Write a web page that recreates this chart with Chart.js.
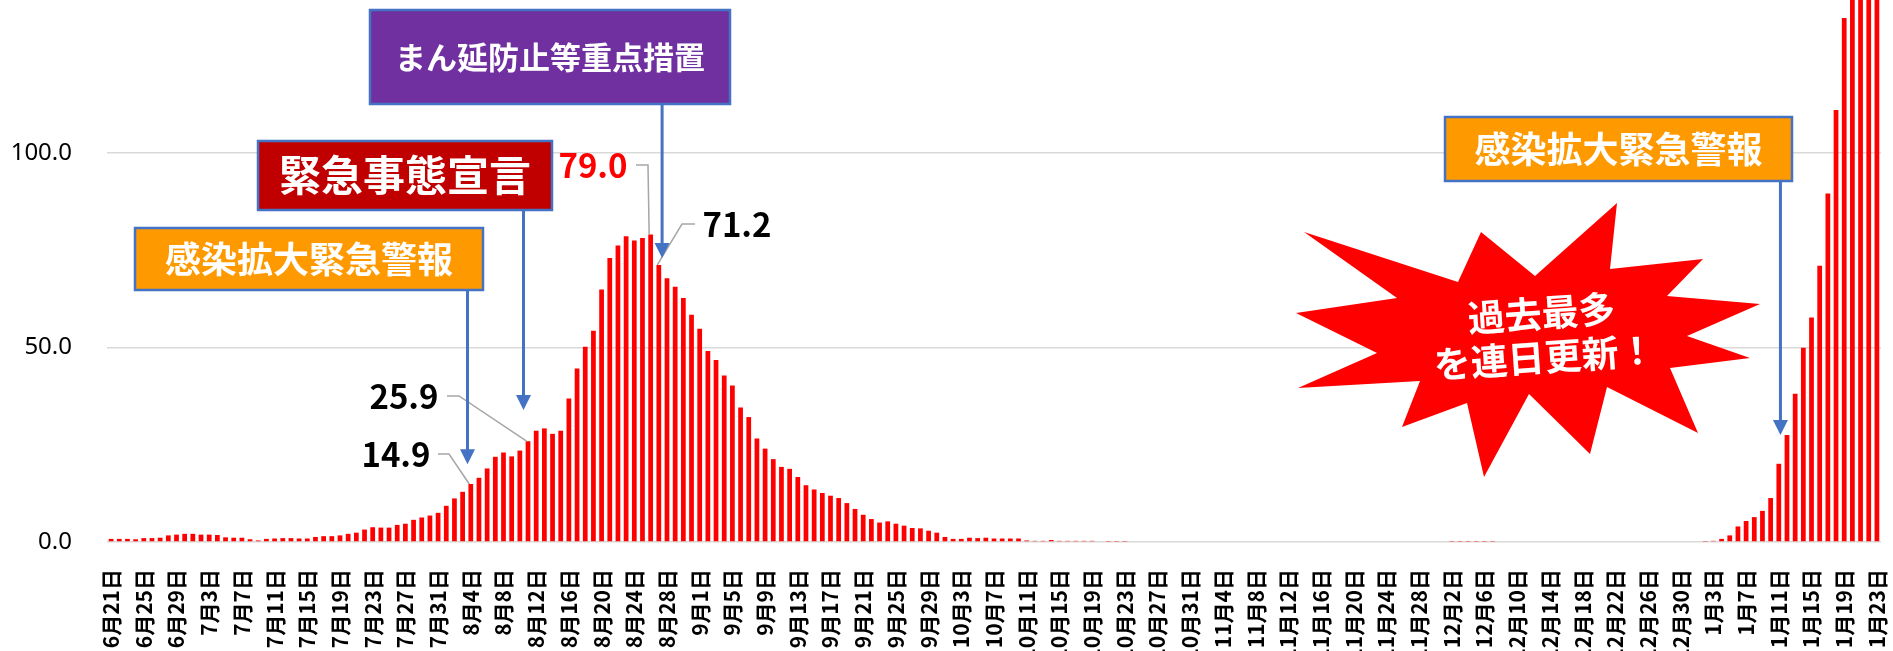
<!DOCTYPE html>
<html lang="ja">
<head>
<meta charset="utf-8">
<title>新規感染者数の推移</title>
<script src="https://cdn.jsdelivr.net/npm/chart.js@4.4.1/dist/chart.umd.min.js"></script>
<style>
  html, body { margin: 0; padding: 0; background: #fff; }
  #wrap { width: 1893px; height: 651px; position: relative; }
</style>
</head>
<body>
<div id="wrap"><canvas id="casesChart"></canvas></div>
<script>
// months on the x axis, with the first and last day shown for each
const months   = [6, 7, 8, 9, 10, 11, 12, 1];
const firstDay = [21, 1, 1, 1, 1, 1, 1, 1];
const lastDay  = [30, 31, 31, 30, 31, 30, 31, 23];

// daily values, one array per month
const junValues = [0.8, 0.8, 0.8, 0.7, 1.0, 1.0, 1.1, 1.7, 1.9, 2.1];
const julValues = [2.1, 1.9, 1.9, 1.8, 1.2, 1.1, 1.1, 0.7, 0.4, 0.8,
                   0.9, 1.0, 1.0, 0.9, 0.9, 1.3, 1.5, 1.5, 1.7, 2.1,
                   2.4, 3.2, 3.8, 3.7, 3.7, 4.4, 4.7, 5.7, 6.3, 6.8, 7.5];
const augValues = [9.3, 11.2, 12.9, 14.9, 16.5, 18.9, 21.9, 23.0, 22.0, 23.5,
                   25.9, 28.6, 29.2, 27.8, 28.6, 36.9, 44.6, 50.2, 54.3, 64.9,
                   73.0, 76.2, 78.6, 77.5, 78.1, 79.0, 71.2, 67.8, 65.6, 62.7, 58.4];
const sepValues = [54.8, 49.1, 46.8, 42.8, 40.2, 34.6, 32.1, 26.6, 24.0, 21.3,
                   19.3, 18.8, 16.7, 14.6, 13.5, 12.6, 11.9, 11.3, 10.0, 8.5,
                   7.0, 5.9, 5.0, 5.3, 4.7, 4.2, 3.6, 3.5, 2.9, 2.4];
const octValues = [1.3, 0.8, 0.8, 1.1, 1.0, 1.1, 0.9, 0.9, 0.9, 0.9,
                   0.4, 0.3, 0.3, 0.5, 0.3, 0.3, 0.3, 0.3, 0.3, 0.2,
                   0.1, 0.1, 0.1, 0, 0, 0, 0, 0, 0, 0, 0];
const novValues = [0, 0, 0, 0, 0, 0, 0, 0, 0, 0,
                   0, 0, 0, 0, 0, 0, 0, 0, 0, 0,
                   0, 0, 0, 0, 0, 0, 0, 0, 0, 0];
const decValues = [0, 0.1, 0.1, 0.1, 0.1, 0.1, 0.1, 0, 0, 0,
                   0, 0, 0, 0, 0, 0, 0, 0, 0, 0,
                   0, 0, 0, 0, 0, 0, 0, 0, 0, 0, 0];
const janValues = [0, 0.1, 0.3, 0.8, 1.7, 4.0, 5.4, 6.4, 8.0, 11.3,
                   20.1, 27.5, 38.1, 49.9, 57.7, 71.0, 89.6, 111.0, 134.7, 148,
                   160, 172, 185];

const labels = [];
months.forEach((m, k) => {
  for (let d = firstDay[k]; d <= lastDay[k]; d++) labels.push(`${m}月${d}日`);
});
const values = [...junValues, ...julValues, ...augValues, ...sepValues,
                ...octValues, ...novValues, ...decValues, ...janValues];

const JP_FONT = '"Noto Sans CJK JP", "Noto Sans", sans-serif';

// boxes with a blue arrow pointing down to a day (arrowAt = category index)
const calloutBoxes = [
  { text: "まん延防止等重点措置", x0: 370, y0: 10,  x1: 730,  y1: 104, fill: "#7030A0", size: 31, arrowAt: 67.4,  tipValue: 73.0 },
  { text: "緊急事態宣言",         x0: 258, y0: 141, x1: 552,  y1: 210, fill: "#C00000", size: 42, arrowAt: 50.45, tipValue: 33.9 },
  { text: "感染拡大緊急警報",     x0: 135, y0: 228, x1: 483,  y1: 290, fill: "#FF9900", size: 36, arrowAt: 43.6,  tipValue: 20.0 },
  { text: "感染拡大緊急警報",     x0: 1445, y0: 117, x1: 1792, y1: 181, fill: "#FF9900", size: 36, arrowAt: 204.2, tipValue: 27.5 }
];

// value call-outs: label centre, start and elbow of the grey leader line
const valueNotes = [
  { index: 44, text: "14.9", color: "#000000", cx: 396, cy: 454, from: [438, 454], elbow: [449, 454] },
  { index: 51, text: "25.9", color: "#000000", cx: 404, cy: 396, from: [447, 396], elbow: [459, 396] },
  { index: 66, text: "79.0", color: "#FF0000", cx: 593, cy: 165, from: [636, 165], elbow: [648, 165] },
  { index: 67, text: "71.2", color: "#000000", cx: 737, cy: 224, from: [695, 224], elbow: [682, 224] }
];

// explosion shape
const burst = [
  [1304, 232], [1458, 282], [1481, 232], [1535, 276], [1617, 203], [1610, 269],
  [1703, 259], [1667, 296], [1760, 304], [1687, 336], [1750, 358], [1670, 368],
  [1698, 433], [1607, 387], [1590, 454], [1529, 394], [1484, 477], [1467, 403],
  [1402, 427], [1420, 381], [1298, 388], [1377, 353], [1296, 313], [1397, 298]
];
const burstLines = ["過去最多", "を連日更新！"];

const annotations = {
  id: "annotations",
  afterDraw(chart) {
    const ctx = chart.ctx;
    const xs = chart.scales.x;
    const ys = chart.scales.y;
    ctx.save();

    // grey leader lines and value labels
    valueNotes.forEach(n => {
      const bx = xs.getPixelForValue(n.index);
      const by = ys.getPixelForValue(values[n.index]);
      ctx.strokeStyle = "#A6A6A6";
      ctx.lineWidth = 1.5;
      ctx.beginPath();
      ctx.moveTo(n.from[0], n.from[1]);
      ctx.lineTo(n.elbow[0], n.elbow[1]);
      ctx.lineTo(bx - 1.5, by);
      ctx.stroke();
      ctx.fillStyle = n.color;
      ctx.font = "bold 33px " + JP_FONT;
      ctx.textAlign = "center";
      ctx.textBaseline = "middle";
      ctx.fillText(n.text, n.cx, n.cy);
    });

    // boxes and arrows
    calloutBoxes.forEach(b => {
      const ax = xs.getPixelForValue(b.arrowAt);
      const tipY = ys.getPixelForValue(b.tipValue);
      ctx.strokeStyle = "#4472C4";
      ctx.lineWidth = 3;
      ctx.beginPath();
      ctx.moveTo(ax, b.y1);
      ctx.lineTo(ax, tipY - 12);
      ctx.stroke();
      ctx.fillStyle = "#4472C4";
      ctx.beginPath();
      ctx.moveTo(ax - 7.5, tipY - 15);
      ctx.lineTo(ax + 7.5, tipY - 15);
      ctx.lineTo(ax, tipY);
      ctx.closePath();
      ctx.fill();

      ctx.fillStyle = b.fill;
      ctx.fillRect(b.x0, b.y0, b.x1 - b.x0, b.y1 - b.y0);
      ctx.lineWidth = 2.5;
      ctx.strokeRect(b.x0, b.y0, b.x1 - b.x0, b.y1 - b.y0);
      ctx.fillStyle = "#FFFFFF";
      ctx.font = "bold " + b.size + "px " + JP_FONT;
      ctx.textAlign = "center";
      ctx.textBaseline = "middle";
      ctx.fillText(b.text, (b.x0 + b.x1) / 2, (b.y0 + b.y1) / 2);
    });

    // explosion
    ctx.fillStyle = "#FF0000";
    ctx.beginPath();
    burst.forEach((p, i) => (i ? ctx.lineTo(p[0], p[1]) : ctx.moveTo(p[0], p[1])));
    ctx.closePath();
    ctx.fill();
    ctx.translate(1543, 335);
    ctx.rotate(-4 * Math.PI / 180);
    ctx.fillStyle = "#FFFFFF";
    ctx.font = "bold 37px " + JP_FONT;
    ctx.textAlign = "center";
    ctx.textBaseline = "middle";
    ctx.fillText(burstLines[0], 0, -22);
    ctx.fillText(burstLines[1], 0, 22);

    ctx.restore();
  }
};

new Chart(document.getElementById("casesChart"), {
  type: "bar",
  data: {
    labels: labels,
    datasets: [{
      data: values,
      backgroundColor: "#FF0000",
      borderWidth: 0,
      barPercentage: 0.58,
      categoryPercentage: 1.0
    }]
  },
  options: {
    responsive: true,
    maintainAspectRatio: false,
    animation: false,
    layout: { padding: { left: 0, right: 12, top: 0, bottom: 0 } },
    plugins: {
      legend: { display: false },
      tooltip: { enabled: false }
    },
    scales: {
      x: {
        grid: { display: false },
        border: { display: false },
        ticks: {
          autoSkip: false,
          maxRotation: 90,
          minRotation: 90,
          padding: 19,
          color: "#000000",
          font: { family: JP_FONT, size: 21, weight: "bold" },
          callback: (v, i) => (i % 4 === 0 ? labels[i] : "")
        },
        afterFit: s => { s.height = 109; s.paddingLeft = 0; s.paddingRight = 0; }
      },
      y: {
        min: 0,
        max: 139.3,
        grid: { color: "#D9D9D9", lineWidth: 1.5, drawTicks: false },
        border: { display: false },
        ticks: {
          stepSize: 50,
          includeBounds: false,
          padding: 35,
          color: "#000000",
          font: { family: '"Noto Sans", sans-serif', size: 24 },
          callback: v => v.toFixed(1)
        },
        afterFit: s => { s.width = 107; s.paddingTop = 0; }
      }
    }
  },
  plugins: [annotations]
});
</script>
</body>
</html>
